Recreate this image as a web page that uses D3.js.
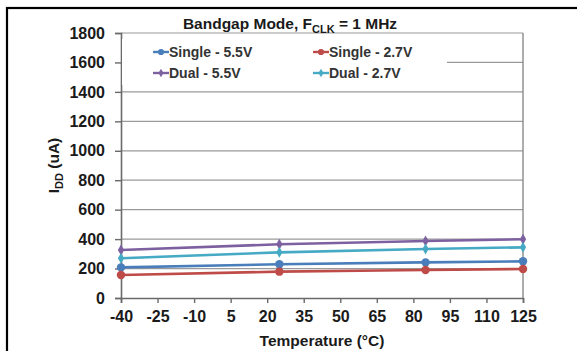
<!DOCTYPE html>
<html>
<head>
<meta charset="utf-8">
<script src="https://cdn.jsdelivr.net/npm/d3@7"></script>
<style>
  html, body { margin: 0; padding: 0; background: #fff; }
  svg { display: block; font-family: "Liberation Sans", Arial, sans-serif; }
</style>
</head>
<body>
<svg id="chart" width="577" height="351"></svg>
<script>
// Supply current vs. temperature, bandgap reference mode, 1 MHz clock
const temperatures = [-40, 25, 85, 125];
const single55 = [208, 229, 242, 249];
const single27 = [156, 179, 190, 197];
const dual55 = [326, 365, 387, 399];
const dual27 = [270, 310, 333, 344];

const xTicks = [-40, -25, -10, 5, 20, 35, 50, 65, 80, 95, 110, 125];
const yTicks = [0, 200, 400, 600, 800, 1000, 1200, 1400, 1600, 1800];

const seriesNames = ["Single - 5.5V", "Single - 2.7V", "Dual - 5.5V", "Dual - 2.7V"];
const seriesValues = [single55, single27, dual55, dual27];
const seriesColors = ["#4a7ebb", "#be4b48", "#7d60a0", "#46aac5"];
const seriesMarkers = ["circle", "circle", "diamond", "diamond"];

const svg = d3.select("#chart");

// Outer frame (runs off the right and bottom edges)
svg.append("rect")
  .attr("x", 7).attr("y", 8).attr("width", 640).attr("height", 420)
  .attr("fill", "none").attr("stroke", "#000").attr("stroke-width", 2.2);

const plot = { left: 121, right: 523, top: 33, bottom: 298 };

const x = d3.scaleLinear().domain([-40, 125]).range([plot.left, plot.right]);
const y = d3.scaleLinear().domain([0, 1800]).range([plot.bottom, plot.top]);

// Plain hyphen for negative tick values
const plainNumber = d => String(d);

// Horizontal gridlines
svg.append("g")
  .selectAll("line")
  .data(yTicks.filter(d => d > 0))
  .join("line")
  .attr("x1", plot.left).attr("x2", plot.right)
  .attr("y1", d => y(d)).attr("y2", d => y(d))
  .attr("stroke", "#9a9a9a").attr("stroke-width", 1.2);

// Plot-area frame on the right
svg.append("line")
  .attr("x1", plot.right).attr("x2", plot.right)
  .attr("y1", plot.top).attr("y2", plot.bottom)
  .attr("stroke", "#8a8a8a").attr("stroke-width", 1.4);

// Axes
const yAxis = svg.append("g")
  .attr("transform", `translate(${plot.left},0)`)
  .call(d3.axisLeft(y).tickValues(yTicks).tickSize(6).tickPadding(10).tickFormat(plainNumber));
const xAxis = svg.append("g")
  .attr("transform", `translate(0,${plot.bottom})`)
  .call(d3.axisBottom(x).tickValues(xTicks).tickSize(5).tickPadding(8).tickFormat(plainNumber));

[yAxis, xAxis].forEach(g => {
  g.select(".domain").attr("stroke", "#6a6a6a").attr("stroke-width", 1.6);
  g.selectAll(".tick line").attr("stroke", "#6a6a6a").attr("stroke-width", 1.4);
  g.selectAll(".tick text")
    .attr("fill", "#1a1a1a")
    .style("font-size", "16px")
    .style("font-weight", "bold")
    .style("font-family", "'Liberation Sans', Arial, sans-serif");
});

// Series
const line = d3.line()
  .x((d, i) => x(temperatures[i]))
  .y(d => y(d))
  .curve(d3.curveMonotoneX);

const diamond = d3.symbol().type(d3.symbolDiamond);
const circle = d3.symbol().type(d3.symbolCircle);

function drawMarker(g, kind, color, cx, cy, big) {
  if (kind === "circle") {
    g.append("path").attr("d", circle.size(big ? 56 : 30)())
      .attr("transform", `translate(${cx},${cy})`).attr("fill", color);
  } else {
    g.append("path").attr("d", diamond.size(big ? 34 : 22)())
      .attr("transform", `translate(${cx},${cy})`).attr("fill", color);
  }
}

const seriesG = svg.append("g");
seriesValues.forEach((vals, s) => {
  seriesG.append("path")
    .datum(vals)
    .attr("d", line)
    .attr("fill", "none")
    .attr("stroke", seriesColors[s])
    .attr("stroke-width", 2.6);
});
seriesValues.forEach((vals, s) => {
  vals.forEach((v, i) => drawMarker(seriesG, seriesMarkers[s], seriesColors[s], x(temperatures[i]), y(v), true));
});

// Legend
const legend = svg.append("g");
legend.append("rect")
  .attr("x", plot.left + 1).attr("y", 39).attr("width", 325).attr("height", 46)
  .attr("fill", "#fff");
const legendPos = [
  { x: 153, y: 52 }, { x: 313, y: 52 },
  { x: 153, y: 73 }, { x: 313, y: 73 }
];
seriesNames.forEach((name, s) => {
  const p = legendPos[s];
  legend.append("line")
    .attr("x1", p.x).attr("x2", p.x + 16)
    .attr("y1", p.y).attr("y2", p.y)
    .attr("stroke", seriesColors[s]).attr("stroke-width", 2.4);
  drawMarker(legend, seriesMarkers[s], seriesColors[s], p.x + 8, p.y, false);
  legend.append("text")
    .attr("x", p.x + 16).attr("y", p.y)
    .attr("dy", "0.35em")
    .attr("fill", "#333")
    .style("font-size", "14px")
    .style("font-weight", "bold")
    .text(name);
});

// Title
const title = svg.append("text")
  .attr("x", 290).attr("y", 29)
  .attr("text-anchor", "middle")
  .attr("fill", "#1a1a1a")
  .style("font-size", "15.5px")
  .style("font-weight", "bold");
title.append("tspan").text("Bandgap Mode, F");
title.append("tspan").attr("dy", 4).style("font-size", "11px").text("CLK");
title.append("tspan").attr("dy", -4).text(" = 1 MHz");

// Axis titles
svg.append("text")
  .attr("x", (plot.left + plot.right) / 2).attr("y", 346)
  .attr("text-anchor", "middle")
  .attr("fill", "#1a1a1a")
  .style("font-size", "15.5px")
  .style("font-weight", "bold")
  .text("Temperature (°C)");

const yTitle = svg.append("text")
  .attr("transform", `translate(59,${(plot.top + plot.bottom) / 2}) rotate(-90)`)
  .attr("text-anchor", "middle")
  .attr("fill", "#1a1a1a")
  .style("font-size", "15.5px")
  .style("font-weight", "bold");
yTitle.append("tspan").text("I");
yTitle.append("tspan").attr("dy", 4).style("font-size", "11px").text("DD");
yTitle.append("tspan").attr("dy", -4).text(" (uA)");
</script>
</body>
</html>
